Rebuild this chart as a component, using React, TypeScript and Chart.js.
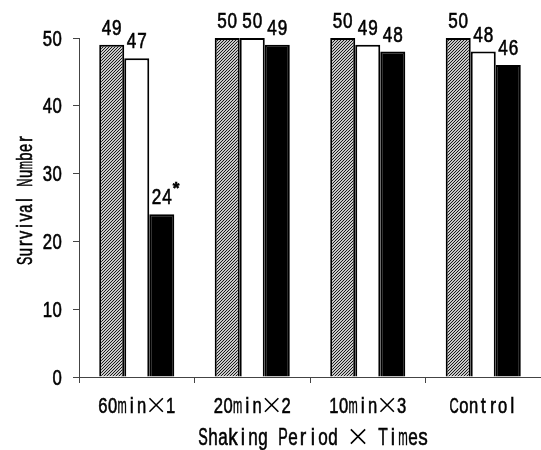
import React, { useEffect, useRef } from "react";
import { Chart, registerables } from "chart.js";

Chart.register(...registerables);

const categories = ["60min×1", "20min×2", "10min×3", "Control"];
const seriesA = [49, 50, 50, 50];
const seriesB = [47, 50, 49, 48];
const seriesC = [24, 49, 48, 46];
const markers = [["", "", "", ""], ["", "", "", ""], ["*", "", "", ""]];
const yTicks = [0, 10, 20, 30, 40, 50];
const xTitle = "Shaking Period × Times";
const yTitle = "Survival Number";

const FONT = "'Liberation Sans', Arial, sans-serif";

function cellsOf(ch: string) {
  return ch === "×" ? 2 : 1;
}

// font size that gives digits of the wanted height in pixels
function sizeFor(ctx: CanvasRenderingContext2D, capPx: number) {
  ctx.save();
  ctx.font = `100px ${FONT}`;
  const m = ctx.measureText("0");
  ctx.restore();
  const asc = (m.actualBoundingBoxAscent || 72) / 100;
  return capPx / asc;
}

// Draws text in a monospaced "gothic" manner: each char centred in its own cell,
// compressed horizontally.
function drawMono(
  ctx: CanvasRenderingContext2D,
  text: string,
  x: number,
  baseline: number,
  cell: number,
  capPx: number,
  align: "center" | "right" | "left" = "center",
  sxMax = 0.8,
  weight = ""
) {
  const size = sizeFor(ctx, capPx);
  ctx.save();
  ctx.textAlign = "center";
  ctx.textBaseline = "alphabetic";
  ctx.strokeStyle = "#000";
  ctx.lineWidth = 0.6;
  const total = Array.from(text).reduce((a, c) => a + cellsOf(c), 0) * cell;
  let start = x - total / 2;
  if (align === "right") start = x - total;
  if (align === "left") start = x;
  let pos = start;
  for (const ch of Array.from(text)) {
    const cw = cellsOf(ch) * cell;
    if (ch === "×") {
      // thin full-width multiplication cross
      const cx = pos + cw / 2;
      const cy = baseline - capPx * 0.5;
      const h = capPx * 0.42;
      ctx.save();
      ctx.lineWidth = 1.6;
      ctx.beginPath();
      ctx.moveTo(cx - h, cy - h);
      ctx.lineTo(cx + h, cy + h);
      ctx.moveTo(cx + h, cy - h);
      ctx.lineTo(cx - h, cy + h);
      ctx.stroke();
      ctx.restore();
    } else if (ch !== " ") {
      ctx.font = `${weight} ${size}px ${FONT}`.trim();
      const w = ctx.measureText(ch).width;
      const sx = Math.min(sxMax, (cw * 0.95) / Math.max(w, 0.01));
      ctx.save();
      ctx.translate(pos + cw / 2, baseline);
      ctx.scale(sx, 1);
      ctx.fillText(ch, 0, 0);
      ctx.strokeText(ch, 0, 0);
      ctx.restore();
    }
    pos += cw;
  }
  ctx.restore();
  return total;
}

function makeHatch(): CanvasPattern | string {
  const c = document.createElement("canvas");
  c.width = 3;
  c.height = 3;
  const g = c.getContext("2d");
  if (!g) return "#777";
  g.fillStyle = "#c8c8c8";
  g.fillRect(0, 0, 3, 3);
  g.fillStyle = "#1a1a1a";
  g.fillRect(0, 2, 1, 1);
  g.fillRect(1, 1, 1, 1);
  g.fillRect(2, 0, 1, 1);
  return g.createPattern(c, "repeat") || "#777";
}

const textPlugin = {
  id: "gothicText",
  afterDraw(chart: any) {
    const ctx: CanvasRenderingContext2D = chart.ctx;
    const xs = chart.scales.x;
    const ys = chart.scales.y;
    ctx.save();
    ctx.fillStyle = "#000";
    // y tick labels
    yTicks.forEach((v) => {
      const py = ys.getPixelForValue(v);
      drawMono(ctx, String(v), 62, py + 7.5, 9.8, 15, "right");
    });
    // category labels
    categories.forEach((c, i) => {
      const px = xs.getPixelForValue(i);
      drawMono(ctx, c, px, 413, 9.7, 16);
    });
    // axis titles
    drawMono(ctx, xTitle, (chart.chartArea.left + chart.chartArea.right) / 2 + 3, 445, 10, 17);
    ctx.save();
    ctx.translate(32, 200);
    ctx.rotate(-Math.PI / 2);
    drawMono(ctx, yTitle, 0, 0, 8.7, 15);
    ctx.restore();
    // value labels
    chart.data.datasets.forEach((ds: any, di: number) => {
      const meta = chart.getDatasetMeta(di);
      meta.data.forEach((bar: any, i: number) => {
        const txt = String(ds.data[i]);
        const w = drawMono(ctx, txt, bar.x, bar.y - 10, 10.3, 15);
        const m = markers[di][i];
        if (m) {
          drawMono(ctx, m, bar.x + w / 2 + 4, bar.y - 20, 8, 12, "center", 1, "bold");
        }
      });
    });
    ctx.restore();
  },
};

export default function App() {
  const ref = useRef<HTMLCanvasElement>(null);
  useEffect(() => {
    document.body.style.margin = "0";
    if (!ref.current) return;
    const hatch = makeHatch();
    const chart = new Chart(ref.current, {
      type: "bar",
      data: {
        labels: categories,
        datasets: [
          { data: seriesA, backgroundColor: hatch as any, borderColor: "#000", borderWidth: 2 },
          { data: seriesB, backgroundColor: "#fff", borderColor: "#000", borderWidth: 2 },
          { data: seriesC, backgroundColor: "#000", borderColor: "#000", borderWidth: 2 },
        ],
      },
      options: {
        animation: false,
        responsive: false,
        devicePixelRatio: 1,
        layout: { padding: { top: 38, right: -2, left: 0, bottom: 0 } },
        plugins: { legend: { display: false }, tooltip: { enabled: false } },
        datasets: { bar: { categoryPercentage: 0.65, barPercentage: 1 } },
        scales: {
          x: {
            afterFit: (s: any) => { s.height = 73; },
            grid: { drawOnChartArea: false, tickLength: 6, color: "#444" },
            border: { color: "#444", width: 1 },
            ticks: { display: false },
          },
          y: {
            min: 0,
            max: 50,
            afterFit: (s: any) => { s.width = 79; },
            afterBuildTicks: (s: any) => { s.ticks = yTicks.map((v) => ({ value: v })); },
            grid: { drawOnChartArea: false, tickLength: 6, color: "#444" },
            border: { color: "#444", width: 1 },
            ticks: { display: false },
          },
        },
      },
      plugins: [textPlugin],
    });
    return () => chart.destroy();
  }, []);
  return (
    <div style={{ width: 541, height: 450 }}>
      <canvas ref={ref} width={541} height={450} style={{ width: 541, height: 450, display: "block" }} />
    </div>
  );
}
